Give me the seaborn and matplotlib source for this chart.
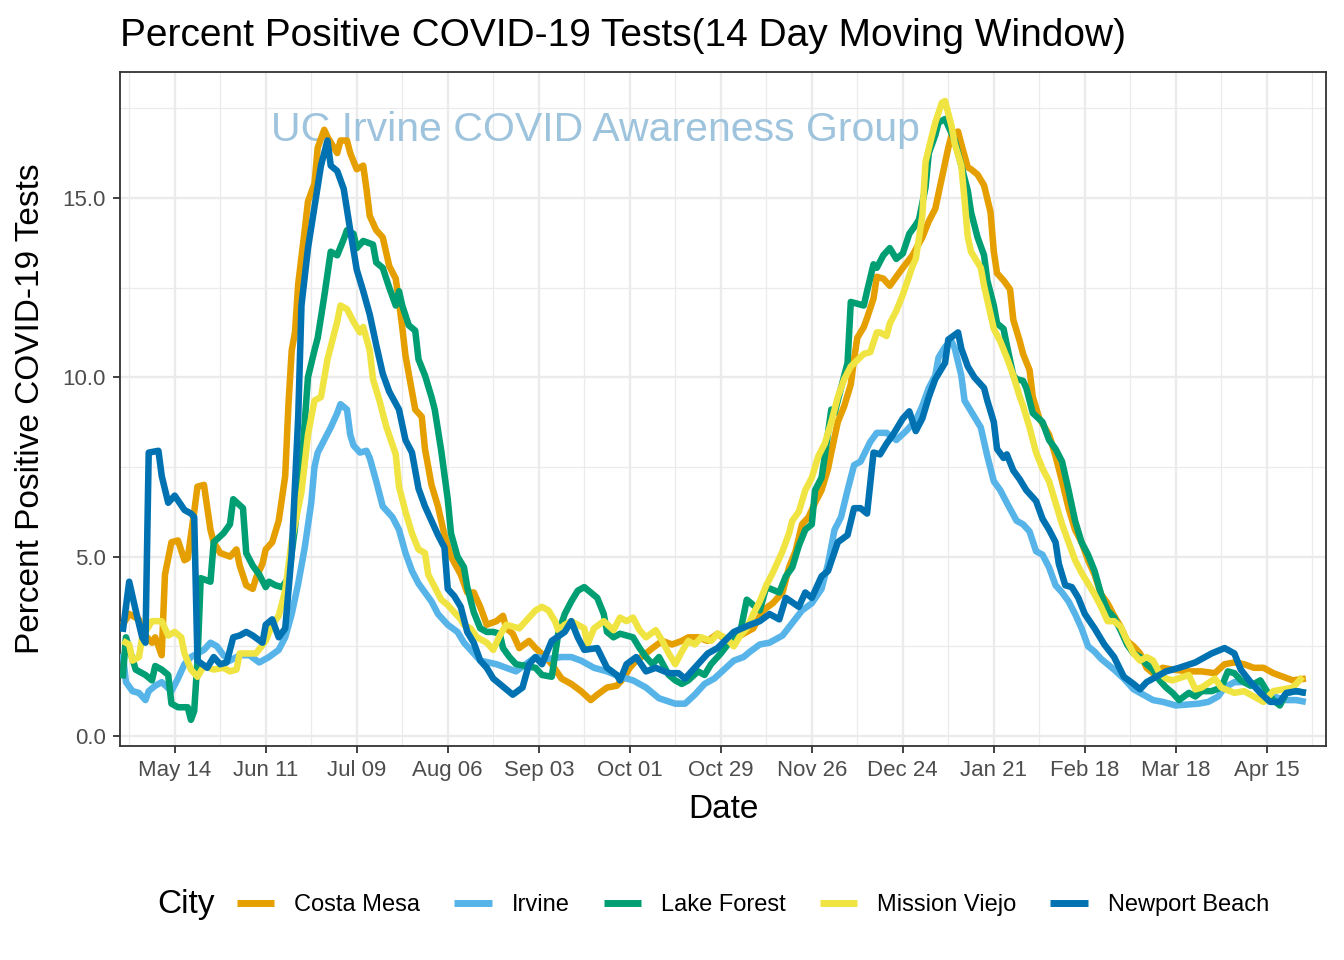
import pandas as pd
import numpy as np
import matplotlib
matplotlib.use("Agg")
import matplotlib.pyplot as plt
from matplotlib.lines import Line2D
import seaborn as sns

# ------------------------------------------
# Data (14 day moving window, % positive)
# day offsets counted from 2020-04-28
# ------------------------------------------
start = pd.Timestamp("2020-04-28")
cities = ["Costa Mesa", "Irvine", "Lake Forest", "Mission Viejo", "Newport Beach"]
colors = ["#E69F00", "#56B4E9", "#009E73", "#F0E442", "#0072B2"]

cm_days = [0, 2, 5, 6, 9, 10, 12, 13, 15, 17, 19, 20, 22, 23, 25, 27, 28, 30, 33, 35, 36, 38, 40, 41, 43, 44, 46, 48,
           50, 51, 52, 53, 54, 56, 57, 59, 60, 62, 63, 66, 67, 69, 70, 72, 74, 75, 76, 78, 80, 82, 84, 85, 86, 87, 89,
           90, 92, 93, 95, 97, 99, 101, 104, 106, 108, 110, 112, 115, 117, 118, 120, 122, 125, 127, 130, 132, 135, 138,
           141, 144, 146, 149, 152, 154, 156, 158, 161, 163, 166, 169, 172, 174, 177, 180, 183, 186, 190, 194, 197,
           200, 203, 205, 207, 209, 211, 213, 215, 217, 218, 220, 222, 224, 225, 226, 228, 229, 231, 232, 234, 236,
           238, 240, 243, 246, 248, 250, 252, 254, 255, 257, 258, 260, 261, 263, 265, 267, 268, 269, 271, 273, 274,
           276, 277, 279, 280, 282, 285, 287, 289, 291, 293, 295, 297, 299, 301, 303, 305, 307, 309, 311, 313, 315,
           317, 320, 323, 328, 332, 336, 339, 342, 345, 348, 351, 354, 357, 360, 364]
cm_vals = [3.1, 3.4, 3.25, 2.9, 2.6, 2.75, 2.25, 4.5, 5.4, 5.45, 4.9, 4.95, 6.25, 6.95, 7.0, 5.75, 5.4, 5.1, 5.0, 5.2,
           4.75, 4.2, 4.1, 4.4, 4.8, 5.2, 5.4, 6.0, 7.25, 9.25, 10.75, 11.25, 12.6, 14.1, 14.9, 15.4, 16.4, 16.9, 16.7,
           16.25, 16.6, 16.6, 16.25, 15.8, 15.9, 15.25, 14.5, 14.1, 13.9, 13.1, 12.75, 12.1, 11.4, 10.6, 9.6, 9.1, 8.9,
           8.0, 7.0, 6.4, 5.6, 5.0, 4.5, 4.0, 4.0, 3.6, 3.1, 3.2, 3.35, 3.0, 2.85, 2.45, 2.65, 2.45, 2.2, 2.0, 1.6,
           1.45, 1.25, 1.0, 1.15, 1.35, 1.4, 1.6, 1.9, 2.1, 2.3, 2.45, 2.65, 2.55, 2.65, 2.75, 2.75, 2.65, 2.85, 2.65,
           2.8, 3.0, 3.5, 3.7, 4.0, 4.7, 5.15, 5.9, 6.1, 6.5, 6.85, 7.45, 7.9, 8.75, 9.2, 9.8, 10.5, 11.1, 11.4, 11.65,
           12.2, 12.8, 12.75, 12.55, 12.8, 13.05, 13.4, 13.9, 14.35, 14.7, 15.55, 16.4, 16.75, 16.85, 16.5, 15.85,
           15.8, 15.65, 15.35, 14.6, 13.5, 12.9, 12.7, 12.45, 11.6, 11.0, 10.65, 10.2, 9.45, 8.85, 8.4, 7.8, 7.1,
           6.35, 5.75, 5.4, 4.9, 4.5, 3.95, 3.7, 3.35, 3.05, 2.65, 2.5, 2.3, 1.9, 1.75, 1.9, 1.85, 1.8, 1.8, 1.75,
           2.0, 2.05, 2.0, 1.9, 1.9, 1.75, 1.65, 1.55, 1.6]

irv_days = [0, 1, 3, 5, 7, 8, 10, 12, 15, 17, 19, 21, 23, 25, 27, 29, 31, 33, 36, 39, 42, 45, 48, 50, 52, 54, 56, 58,
            59, 60, 62, 64, 66, 67, 69, 70, 71, 73, 75, 76, 78, 80, 83, 85, 87, 89, 91, 93, 95, 97, 100, 103, 105,
            107, 110, 115, 118, 121, 124, 127, 131, 135, 138, 141, 145, 149, 153, 157, 161, 165, 170, 173, 176, 179,
            182, 185, 188, 191, 193, 196, 199, 203, 206, 209, 212, 215, 217, 219, 221, 223, 225, 227, 230, 232, 235,
            238, 241, 244, 246, 248, 250, 251, 253, 255, 256, 258, 259, 261, 264, 266, 268, 270, 272, 275, 277, 279,
            281, 283, 285, 287, 289, 291, 293, 295, 297, 299, 301, 303, 305, 308, 311, 314, 317, 320, 324, 331, 334,
            337, 339, 342, 345, 348, 351, 354, 358, 361, 364]
irv_vals = [2.3, 1.5, 1.25, 1.2, 1.0, 1.25, 1.4, 1.5, 1.25, 1.6, 2.0, 2.2, 2.3, 2.4, 2.6, 2.5, 2.25, 2.1, 2.25, 2.25,
            2.05, 2.2, 2.4, 2.75, 3.4, 4.25, 5.25, 6.5, 7.5, 7.9, 8.25, 8.6, 9.0, 9.25, 9.1, 8.4, 8.1, 7.9, 7.95, 7.75,
            7.1, 6.4, 6.1, 5.75, 5.1, 4.6, 4.25, 4.0, 3.75, 3.4, 3.1, 2.9, 2.6, 2.4, 2.1, 2.0, 1.9, 1.8, 2.0, 2.2,
            2.15, 2.2, 2.2, 2.1, 1.9, 1.8, 1.65, 1.55, 1.35, 1.05, 0.9, 0.9, 1.15, 1.45, 1.6, 1.85, 2.1, 2.2, 2.35,
            2.55, 2.6, 2.8, 3.15, 3.5, 3.7, 4.1, 4.8, 5.75, 6.1, 6.85, 7.55, 7.65, 8.2, 8.45, 8.45, 8.25, 8.5, 8.8,
            9.2, 9.7, 10.05, 10.55, 10.85, 11.0, 10.8, 10.05, 9.35, 9.05, 8.6, 7.8, 7.1, 6.85, 6.5, 6.0, 5.9, 5.7,
            5.15, 5.05, 4.7, 4.2, 4.0, 3.75, 3.4, 3.0, 2.5, 2.35, 2.15, 2.0, 1.85, 1.6, 1.3, 1.15, 1.0, 0.95, 0.85,
            0.9, 0.95, 1.1, 1.35, 1.5, 1.5, 1.4, 1.3, 1.1, 1.0, 1.0, 0.95]

lf_days = [0, 1, 4, 7, 9, 10, 12, 14, 15, 17, 20, 21, 22, 23, 24, 27, 28, 31, 33, 34, 37, 38, 40, 42, 44, 45, 47, 49,
           51, 53, 55, 57, 59, 60, 62, 64, 66, 68, 69, 71, 72, 74, 77, 78, 80, 82, 84, 85, 86, 88, 90, 91, 93, 95, 96,
           98, 100, 101, 103, 105, 106, 108, 110, 112, 114, 116, 117, 119, 121, 127, 129, 132, 134, 136, 138, 140,
           142, 144, 146, 148, 149, 151, 153, 157, 159, 161, 163, 165, 168, 170, 172, 174, 177, 179, 181, 184, 187,
           190, 192, 194, 196, 198, 202, 204, 206, 208, 210, 212, 213, 215, 216, 218, 219, 221, 223, 224, 226, 228,
           229, 231, 232, 234, 236, 238, 240, 242, 244, 245, 247, 248, 250, 251, 253, 254, 256, 258, 260, 261, 263,
           265, 266, 268, 269, 271, 272, 274, 275, 277, 278, 280, 283, 285, 287, 289, 291, 293, 295, 297, 299, 301,
           303, 305, 307, 309, 311, 313, 315, 317, 319, 321, 323, 325, 328, 330, 332, 335, 338, 340, 342, 344, 347,
           350, 352, 354, 356, 358, 361, 364]
lf_vals = [1.6, 2.75, 1.85, 1.7, 1.55, 1.95, 1.85, 1.7, 0.9, 0.8, 0.8, 0.45, 0.7, 2.1, 4.4, 4.3, 5.4, 5.65, 5.9, 6.6,
           6.35, 5.1, 4.75, 4.5, 4.15, 4.3, 4.2, 4.15, 4.4, 5.8, 7.5, 10.0, 10.75, 11.1, 12.25, 13.5, 13.4, 13.85,
           14.1, 14.0, 13.6, 13.8, 13.7, 13.2, 13.05, 12.5, 12.0, 12.4, 12.0, 11.45, 11.3, 10.5, 10.05, 9.45, 9.1,
           7.95, 6.6, 5.65, 5.0, 4.7, 4.15, 3.45, 3.0, 2.9, 2.9, 2.85, 2.45, 2.2, 2.0, 1.9, 1.7, 1.65, 2.85, 3.4,
           3.75, 4.05, 4.15, 4.0, 3.85, 3.4, 2.9, 2.75, 2.85, 2.75, 2.45, 2.2, 2.0, 2.2, 1.7, 1.55, 1.45, 1.55, 1.8,
           1.7, 2.0, 2.3, 2.65, 2.9, 3.8, 3.65, 3.5, 4.15, 4.0, 4.45, 4.7, 5.3, 5.75, 5.9, 6.85, 7.2, 7.8, 9.1, 9.0,
           9.7, 10.4, 12.1, 12.05, 12.0, 12.4, 13.15, 13.05, 13.4, 13.6, 13.3, 13.45, 14.0, 14.25, 14.4, 15.3, 16.25,
           16.75, 17.1, 17.2, 17.0, 16.6, 15.9, 15.2, 14.6, 13.9, 13.4, 12.7, 12.0, 11.5, 11.35, 10.9, 10.05, 9.95,
           9.9, 9.7, 9.0, 8.75, 8.25, 8.0, 7.65, 6.85, 6.0, 5.4, 5.05, 4.6, 3.95, 3.5, 3.3, 2.95, 2.55, 2.3, 2.2, 2.0,
           1.85, 1.55, 1.35, 1.2, 1.0, 1.2, 1.1, 1.25, 1.25, 1.35, 1.8, 1.75, 1.55, 1.4, 1.55, 1.25, 1.0, 0.85, 1.2,
           1.25, 1.2]

mv_days = [0, 2, 3, 5, 6, 9, 12, 14, 16, 18, 19, 21, 23, 25, 28, 31, 33, 35, 36, 41, 44, 46, 48, 50, 52, 55, 57, 59,
           61, 63, 64, 66, 67, 69, 71, 73, 74, 76, 77, 79, 81, 84, 85, 87, 89, 91, 93, 94, 96, 98, 100, 102, 104, 105,
           107, 109, 112, 114, 116, 118, 122, 124, 127, 129, 131, 133, 134, 136, 138, 140, 142, 143, 145, 148, 151,
           153, 155, 157, 159, 161, 164, 166, 168, 170, 172, 174, 176, 178, 181, 183, 186, 188, 190, 192, 194, 196,
           198, 200, 203, 205, 206, 208, 210, 212, 214, 216, 218, 220, 222, 224, 228, 230, 232, 233, 235, 236, 238,
           240, 243, 244, 246, 247, 249, 250, 252, 253, 255, 256, 258, 259, 260, 261, 264, 265, 267, 268, 270, 272,
           274, 276, 277, 279, 281, 283, 285, 287, 289, 291, 293, 295, 297, 299, 301, 303, 305, 307, 309, 311, 313,
           315, 317, 319, 321, 323, 328, 330, 332, 336, 338, 342, 345, 348, 351, 354, 357, 360, 363]
mv_vals = [2.65, 2.55, 2.1, 2.2, 2.75, 3.2, 3.2, 2.8, 2.9, 2.75, 2.3, 1.85, 1.65, 1.95, 1.85, 1.9, 1.8, 1.85, 2.3,
           2.3, 2.65, 3.1, 3.35, 4.05, 5.45, 6.8, 8.4, 9.35, 9.45, 10.5, 10.85, 11.55, 12.0, 11.9, 11.55, 11.25, 11.4,
           10.75, 9.95, 9.35, 8.65, 7.85, 6.95, 6.25, 5.65, 5.2, 5.1, 4.5, 4.15, 3.8, 3.65, 3.45, 3.25, 3.1, 3.0,
           2.75, 2.6, 2.4, 2.8, 3.1, 3.0, 3.2, 3.5, 3.6, 3.5, 3.2, 2.95, 3.1, 3.2, 3.1, 3.0, 2.55, 3.0, 3.2, 2.95,
           3.3, 3.2, 3.3, 2.95, 2.75, 2.95, 2.65, 2.3, 2.0, 2.35, 2.65, 2.55, 2.75, 2.65, 2.85, 2.7, 2.5, 2.8, 3.0,
           3.4, 3.75, 4.2, 4.55, 5.15, 5.65, 6.0, 6.25, 6.85, 7.2, 7.8, 8.15, 8.75, 9.45, 9.95, 10.3, 10.65, 10.7,
           11.25, 11.25, 11.15, 11.5, 11.85, 12.3, 13.1, 13.3, 14.5, 16.0, 16.75, 17.1, 17.65, 17.7, 17.0, 16.5,
           15.9, 14.95, 13.9, 13.5, 13.05, 12.55, 11.75, 11.35, 11.0, 10.55, 10.05, 9.45, 9.2, 8.6, 7.9, 7.45, 7.1,
           6.5, 5.9, 5.4, 4.9, 4.55, 4.25, 3.95, 3.6, 3.2, 3.2, 3.05, 2.65, 2.3, 2.1, 2.2, 2.1, 1.75, 1.6, 1.55, 1.7,
           1.3, 1.35, 1.6, 1.35, 1.2, 1.25, 1.1, 0.95, 1.25, 1.3, 1.35, 1.65]

nb_days = [0, 2, 4, 6, 7, 8, 11, 12, 14, 16, 19, 21, 22, 23, 26, 28, 30, 32, 34, 36, 38, 40, 43, 44, 46, 48, 50, 52,
           54, 55, 57, 59, 61, 63, 64, 66, 68, 70, 72, 74, 76, 78, 80, 82, 85, 87, 89, 91, 93, 95, 97, 99, 100, 102,
           104, 106, 108, 110, 112, 114, 116, 120, 123, 125, 127, 129, 132, 136, 138, 140, 142, 146, 149, 152, 153,
           155, 158, 161, 164, 168, 171, 173, 177, 180, 183, 188, 193, 196, 199, 202, 204, 208, 210, 212, 215, 217,
           220, 223, 225, 227, 229, 231, 233, 235, 237, 240, 242, 244, 246, 248, 250, 253, 254, 257, 258, 260, 262,
           265, 266, 268, 269, 271, 272, 274, 276, 278, 281, 283, 285, 287, 288, 290, 292, 294, 296, 299, 300, 302,
           305, 308, 311, 313, 315, 318, 321, 325, 330, 335, 339, 342, 344, 347, 350, 353, 356, 358, 361, 364]
nb_vals = [2.9, 4.3, 3.5, 2.75, 2.6, 7.9, 7.95, 7.25, 6.5, 6.7, 6.3, 6.2, 6.1, 2.1, 1.9, 2.2, 2.0, 2.05, 2.75, 2.8,
           2.9, 2.8, 2.6, 3.1, 3.25, 2.75, 3.0, 5.1, 8.9, 12.0, 13.6, 14.75, 15.9, 16.6, 15.9, 15.75, 15.25, 14.1,
           13.0, 12.4, 11.75, 10.9, 10.1, 9.6, 9.1, 8.25, 7.9, 6.9, 6.4, 6.0, 5.6, 5.25, 4.1, 3.9, 3.6, 2.9, 2.6, 2.1,
           1.9, 1.6, 1.45, 1.15, 1.35, 2.0, 2.2, 2.0, 2.65, 2.9, 3.2, 2.75, 2.4, 2.45, 1.9, 1.7, 1.55, 2.0, 2.2, 1.8,
           1.9, 1.75, 1.75, 1.6, 2.0, 2.3, 2.45, 2.9, 3.1, 3.2, 3.4, 3.25, 3.85, 3.6, 4.0, 3.85, 4.45, 4.6, 5.4, 5.6,
           6.35, 6.35, 6.2, 7.9, 7.85, 8.15, 8.4, 8.85, 9.05, 8.5, 8.85, 9.45, 9.95, 10.4, 11.05, 11.25, 10.8, 10.3,
           10.0, 9.7, 9.35, 8.75, 8.0, 7.75, 7.85, 7.4, 7.15, 6.85, 6.55, 6.05, 5.75, 5.4, 4.8, 4.2, 4.15, 3.85, 3.4,
           3.0, 2.85, 2.55, 2.2, 1.65, 1.45, 1.3, 1.5, 1.65, 1.8, 1.9, 2.05, 2.3, 2.45, 2.3, 1.85, 1.5, 1.2, 0.95,
           0.95, 1.2, 1.25, 1.2]

all_days = [cm_days, irv_days, lf_days, mv_days, nb_days]
all_vals = [cm_vals, irv_vals, lf_vals, mv_vals, nb_vals]

frames = []
for city, days, vals in zip(cities, all_days, all_vals):
    frames.append(pd.DataFrame({
        "Date": start + pd.to_timedelta(days, unit="D"),
        "Pct": vals,
        "City": city,
    }))
df = pd.concat(frames, ignore_index=True)

# ------------------------------------------
# Plot
# ------------------------------------------
sns.set_theme(style="white")
plt.rcParams["font.family"] = ["Liberation Sans", "DejaVu Sans"]
plt.rcParams["text.color"] = "black"

W, H = 1344, 960
fig = plt.figure(figsize=(W / 100, H / 100), dpi=100)
ax = fig.add_axes([120 / W, 1 - 746 / H, (1326 - 120) / W, (746 - 72) / H])

sns.lineplot(data=df, x="Date", y="Pct", hue="City", hue_order=cities,
             palette=colors, linewidth=4.7, estimator=None, legend=False,
             ax=ax, zorder=3)
for ln in ax.get_lines():
    ln.set_solid_capstyle("butt")

# watermark
ax.text(0.394, 0.914, "UC Irvine COVID Awareness Group", transform=ax.transAxes,
        ha="center", va="center", fontsize=29.5, color="#9EC3DD", zorder=1)

# axes limits and ticks
ax.set_xlim(start - pd.Timedelta(days=0.83), start + pd.Timedelta(days=370.2))
ax.set_ylim(-0.28, 18.51)

major_x = pd.date_range("2020-05-14", periods=13, freq="28D")
minor_x = pd.date_range("2020-04-30", periods=14, freq="28D")
ax.set_xticks(major_x)
ax.set_xticklabels([d.strftime("%b %d") for d in major_x])
ax.set_xticks(minor_x, minor=True)
ax.set_yticks([0, 5, 10, 15])
ax.set_yticklabels(["0.0", "5.0", "10.0", "15.0"])
ax.set_yticks([2.5, 7.5, 12.5, 17.5], minor=True)

ax.grid(which="major", color="#EBEBEB", linewidth=1.7, zorder=0)
ax.grid(which="minor", color="#EBEBEB", linewidth=0.9, zorder=0)
ax.set_axisbelow(True)

ax.tick_params(which="major", direction="out", length=5, width=1.3, color="#333333",
               labelsize=16, labelcolor="#4D4D4D", pad=5)
ax.tick_params(which="minor", length=0)
ax.tick_params(axis="x", which="major", bottom=True)
ax.tick_params(axis="y", which="major", left=True)
for s in ax.spines.values():
    s.set_color("#333333")
    s.set_linewidth(1.3)

ax.set_xlabel("")
ax.set_ylabel("")

# titles and labels
fig.text(120 / W, 1 - 46 / H, "Percent Positive COVID-19 Tests(14 Day Moving Window)",
         fontsize=28, ha="left", va="baseline", color="black")
fig.text(31 / W, 1 - 409 / H, "Percent Positive COVID-19 Tests", rotation=90,
         fontsize=24, ha="center", va="center", color="black")
fig.text(723 / W, 1 - 810 / H, "Date", fontsize=24, ha="center", va="center", color="black")

# legend
fig.text(186 / W, 1 - 905 / H, "City", fontsize=24, ha="center", va="center", color="black")
handles = [Line2D([0], [0], color=c, lw=5, solid_capstyle="butt") for c in colors]
leg = fig.legend(handles, cities, loc="center", bbox_to_anchor=(753 / W, 1 - 905 / H),
                 ncol=5, frameon=False, fontsize=17, handlelength=1.57,
                 handletextpad=0.85, columnspacing=1.45, borderpad=0, borderaxespad=0)
for t in leg.get_texts():
    t.set_color("black")

fig.savefig("out.png", dpi=100)
